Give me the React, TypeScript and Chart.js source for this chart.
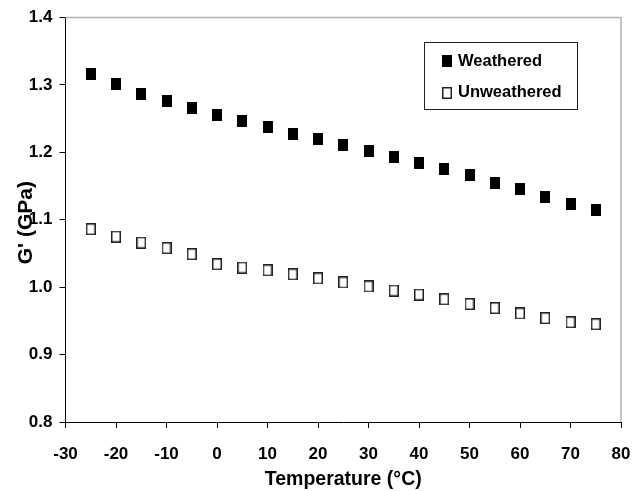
import React, { useEffect, useRef } from "react";
import { Chart, registerables } from "chart.js";

Chart.register(...registerables);

const temperatures = [-25, -20, -15, -10, -5, 0, 5, 10, 15, 20, 25, 30, 35, 40, 45, 50, 55, 60, 65, 70, 75];
const weathered = [1.316, 1.301, 1.287, 1.276, 1.266, 1.256, 1.246, 1.237, 1.227, 1.220, 1.211, 1.202, 1.193, 1.184, 1.176, 1.166, 1.155, 1.145, 1.134, 1.124, 1.114];
const unweathered = [1.086, 1.075, 1.066, 1.058, 1.049, 1.034, 1.029, 1.025, 1.019, 1.013, 1.007, 1.001, 0.995, 0.989, 0.982, 0.975, 0.969, 0.961, 0.954, 0.948, 0.945];
const seriesLabels = ["Weathered", "Unweathered"];
const xTicks = [-30, -20, -10, 0, 10, 20, 30, 40, 50, 60, 70, 80];
const yTicks = [0.8, 0.9, 1.0, 1.1, 1.2, 1.3, 1.4];
const xTitle = "Temperature (°C)";
const yTitle = "G' (GPa)";

const FONT = '"Liberation Sans", Arial, sans-serif';

function makeMarker(filled: boolean): HTMLCanvasElement {
  const c = document.createElement("canvas");
  c.width = 10;
  c.height = 12;
  const ctx = c.getContext("2d")!;
  if (filled) {
    ctx.fillStyle = "#000";
    ctx.fillRect(0, 0, 10, 12);
  } else {
    ctx.fillStyle = "#fff";
    ctx.fillRect(0, 0, 10, 12);
    ctx.strokeStyle = "#222";
    ctx.lineWidth = 1.5;
    ctx.strokeRect(0.75, 0.75, 8.5, 10.5);
  }
  return c;
}

const frameLegendPlugin = {
  id: "frameLegend",
  afterDraw(chart: any) {
    const { ctx, chartArea } = chart;
    ctx.save();
    ctx.strokeStyle = "#b4b4b4";
    ctx.lineWidth = 1.5;
    ctx.beginPath();
    ctx.moveTo(chartArea.left, chartArea.top);
    ctx.lineTo(chartArea.right, chartArea.top);
    ctx.lineTo(chartArea.right, chartArea.bottom);
    ctx.stroke();
    ctx.strokeStyle = "#222";
    ctx.lineWidth = 1;
    ctx.strokeRect(424.5, 42.5, 153, 67);
    ctx.font = `bold 16.5px ${FONT}`;
    ctx.textBaseline = "middle";
    ctx.textAlign = "left";
    ctx.fillStyle = "#000";
    chart.data.datasets.forEach((ds: any, i: number) => {
      const cy = 61 + i * 31.5;
      const img = ds.pointStyle as HTMLCanvasElement;
      ctx.drawImage(img, 442, Math.round(cy - 6));
      ctx.fillText(ds.label, 458, cy);
    });
    ctx.restore();
  },
};

export default function App() {
  const ref = useRef<HTMLCanvasElement>(null);
  useEffect(() => {
    document.body.style.margin = "0";
    const filled = makeMarker(true);
    const hollow = makeMarker(false);
    const chart = new Chart(ref.current!, {
      type: "scatter",
      data: {
        datasets: [
          {
            label: seriesLabels[0],
            data: temperatures.map((t, i) => ({ x: t, y: weathered[i] })),
            pointStyle: filled as any,
            pointRadius: 5,
            showLine: false,
          },
          {
            label: seriesLabels[1],
            data: temperatures.map((t, i) => ({ x: t, y: unweathered[i] })),
            pointStyle: hollow as any,
            pointRadius: 5,
            showLine: false,
          },
        ],
      },
      options: {
        responsive: false,
        animation: false,
        devicePixelRatio: 1,
        layout: { padding: { top: 17.5, right: 11, left: 0, bottom: 0 } },
        plugins: { legend: { display: false }, tooltip: { enabled: false } },
        scales: {
          x: {
            type: "linear",
            min: -30,
            max: 80,
            afterBuildTicks: (s: any) => {
              s.ticks = xTicks.map((v) => ({ value: v }));
            },
            afterFit: (s: any) => {
              s.height = 69;
              s.paddingLeft = 0;
              s.paddingRight = 0;
            },
            ticks: {
              color: "#000",
              font: { family: FONT, size: 17, weight: "bold" },
              padding: 16,
              maxRotation: 0,
              callback: (v: any) => String(v),
            },
            grid: { drawOnChartArea: false, drawTicks: true, tickLength: 6, color: "#000" },
            border: { color: "#000", width: 1 },
            title: {
              display: true,
              text: xTitle,
              color: "#000",
              font: { family: FONT, size: 19.5, weight: "bold" },
              padding: { top: 0, bottom: 0 },
            },
          },
          y: {
            type: "linear",
            min: 0.8,
            max: 1.4,
            afterBuildTicks: (s: any) => {
              s.ticks = yTicks.map((v) => ({ value: v }));
            },
            afterFit: (s: any) => {
              s.width = 65.5;
              s.paddingTop = 0;
              s.paddingBottom = 0;
            },
            ticks: {
              color: "#000",
              font: { family: FONT, size: 17, weight: "bold" },
              padding: 7,
              callback: (v: any) => Number(v).toFixed(1),
            },
            grid: { drawOnChartArea: false, drawTicks: true, tickLength: 6, color: "#000" },
            border: { color: "#000", width: 1 },
            title: {
              display: true,
              text: yTitle + " ",
              color: "#000",
              font: { family: FONT, size: 21, weight: "bold" },
              padding: { top: 14, bottom: 0 },
            },
          },
        },
      },
      plugins: [frameLegendPlugin],
    });
    return () => chart.destroy();
  }, []);
  return (
    <div style={{ position: "absolute", left: 0, top: 0, width: 632, height: 491, background: "#fff" }}>
      <canvas ref={ref} width={632} height={491} />
    </div>
  );
}
